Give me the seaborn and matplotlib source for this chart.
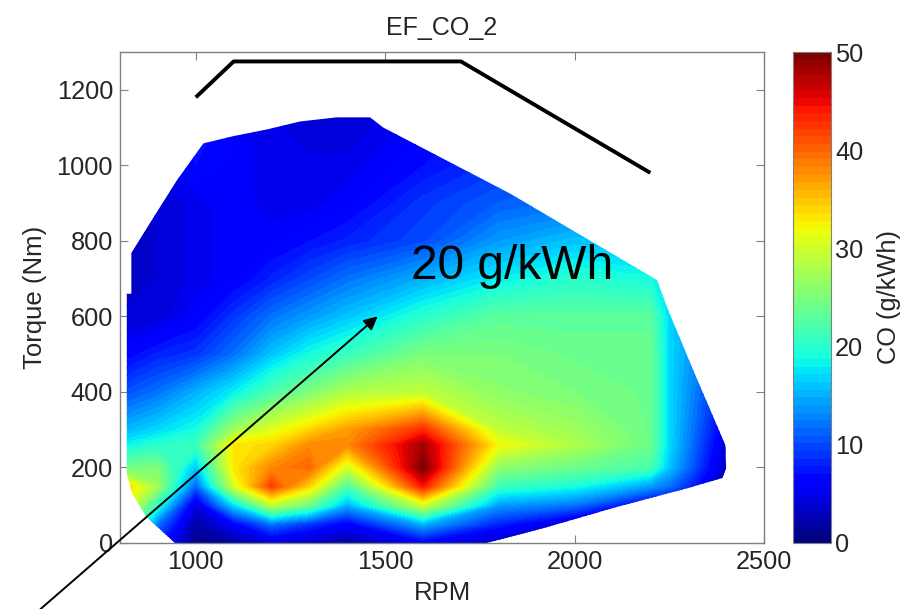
import numpy as np
import pandas as pd
import matplotlib
matplotlib.use("Agg")
import matplotlib.pyplot as plt
from matplotlib.patches import Polygon
import seaborn as sns

# engine map grid
rpm_grid = [800, 900, 1000, 1100, 1200, 1300, 1400, 1600, 1800, 2000, 2200, 2250, 2400]
torque_grid = [0, 50, 100, 150, 200, 260, 300, 400, 500, 600, 700, 800, 900, 1000, 1100, 1150]

co_800 = [30, 32, 34, 36, 24, 18, 15, 10, 6, 4, 3, 3, 3, 4, 5, 5]
co_900 = [8, 12, 20, 27, 25, 20, 17, 12, 8, 4, 4, 4, 4, 5, 5, 5]
co_1000 = [1, 2, 4, 11, 16, 21, 19, 15, 9, 6, 5, 5, 5, 7, 8, 8]
co_1100 = [2, 6, 17, 30, 33, 33, 27, 18, 12, 9, 6, 6, 6, 6, 6, 6]
co_1200 = [4, 12, 29, 42, 38, 34, 31, 22, 16, 12, 8, 6, 5, 5, 5, 5]
co_1300 = [3, 9, 24, 34, 40, 38, 34, 25, 19, 14, 10, 7, 5, 5, 4, 4]
co_1400 = [2, 6, 15, 22, 30, 38, 37, 28, 21, 16, 12, 8, 6, 5, 4, 4]
co_1600 = [6, 15, 30, 44, 50, 48, 43, 29, 25, 20, 15, 10, 9, 7, 6, 6]
co_1800 = [3, 8, 14, 21, 26, 32, 29, 26, 25, 23, 18, 14, 11, 9, 8, 8]
co_2000 = [3, 3, 12, 19, 24, 28, 27, 25, 24, 23, 20, 16, 12, 10, 10, 10]
co_2200 = [2, 2, 5, 14, 22, 24, 24, 24, 24, 23, 19, 15, 12, 10, 10, 10]
co_2250 = [2, 2, 4, 12, 16, 17, 17, 17, 17, 17, 17, 14, 12, 10, 10, 10]
co_2400 = [2, 2, 2, 2, 3, 4, 5, 7, 9, 10, 12, 12, 12, 12, 12, 12]

# outline of the measured area
edge_rpm = [818, 818, 830, 830, 879, 950, 1020, 1098, 1188, 1275, 1372, 1460, 1495, 1610, 1830,
            2128, 2218, 2244, 2313, 2398, 2400, 2390, 2297, 2102, 1927, 1768, 945, 870, 832]
edge_torque = [185, 660, 660, 768, 847, 960, 1058, 1077, 1095, 1116, 1127, 1127, 1100, 1040, 925,
               749, 696, 624, 458, 259, 198, 172, 145, 93, 42, 0, 0, 69, 132]

# full load curve
curve_rpm = [1000, 1100, 1700, 2200]
curve_torque = [1180, 1275, 1275, 980]

W, H = 914, 609
sns.set_style("white")
plt.rcParams["font.family"] = ["Liberation Sans", "DejaVu Sans"]
text_col = "#262626"
frame_col = "#808080"

fig = plt.figure(figsize=(W / 100, H / 100), dpi=100)
ax = fig.add_axes([120 / W, 1 - 543 / H, 644 / W, 491 / H])
cax = fig.add_axes([793 / W, 1 - 543 / H, 38 / W, 491 / H])

jet64 = plt.get_cmap("jet", 64)
co = np.array([co_800, co_900, co_1000, co_1100, co_1200, co_1300, co_1400, co_1600, co_1800,
               co_2000, co_2200, co_2250, co_2400], dtype=float).T

cs = ax.contourf(rpm_grid, torque_grid, co, levels=np.linspace(0, 50, 65), cmap=jet64,
                 vmin=0, vmax=50)
outline = Polygon(np.column_stack([edge_rpm, edge_torque]), closed=True, fc="none", ec="none",
                  transform=ax.transData)
ax.add_patch(outline)
cs.set_clip_path(outline)

curve = pd.DataFrame({"rpm": curve_rpm, "torque": curve_torque})
sns.lineplot(data=curve, x="rpm", y="torque", color="black", linewidth=2.8, sort=False,
             errorbar=None, ax=ax, solid_capstyle="butt")

ax.set_xlim(800, 2500)
ax.set_ylim(0, 1300)
ax.set_xticks([1000, 1500, 2000, 2500])
ax.set_yticks([0, 200, 400, 600, 800, 1000, 1200])
ax.tick_params(direction="in", length=6, width=0.8, color=frame_col, labelsize=18.3,
               labelcolor=text_col, top=True, right=True, left=True, bottom=True, pad=5)
for s in ax.spines.values():
    s.set_color(frame_col)
    s.set_linewidth(1)
ax.set_xlabel("RPM", fontsize=18.5, color=text_col, labelpad=5)
ax.set_ylabel("Torque (Nm)", fontsize=18.5, color=text_col, labelpad=7)
ax.set_title("EF_CO_2", fontsize=18, color=text_col, pad=12)

ax.text(1568, 700, "20 g/kWh", fontsize=34.5, color="black", va="baseline", ha="left", zorder=6)
ax.annotate("", xy=(1480, 600), xytext=(590, -175), annotation_clip=False, zorder=6,
            arrowprops=dict(arrowstyle="-|>", color="black", lw=1.4, mutation_scale=20, shrinkA=0, shrinkB=0))

cb = fig.colorbar(cs, cax=cax, ticks=[0, 10, 20, 30, 40, 50], drawedges=False)
cax.tick_params(direction="in", length=4, width=0.8, color="#404040", labelsize=18.3,
                labelcolor=text_col, pad=3)
cb.outline.set_edgecolor(frame_col)
cb.set_label("CO (g/kWh)", fontsize=18.3, color=text_col, labelpad=10)

fig.savefig("out.png", dpi=100)
